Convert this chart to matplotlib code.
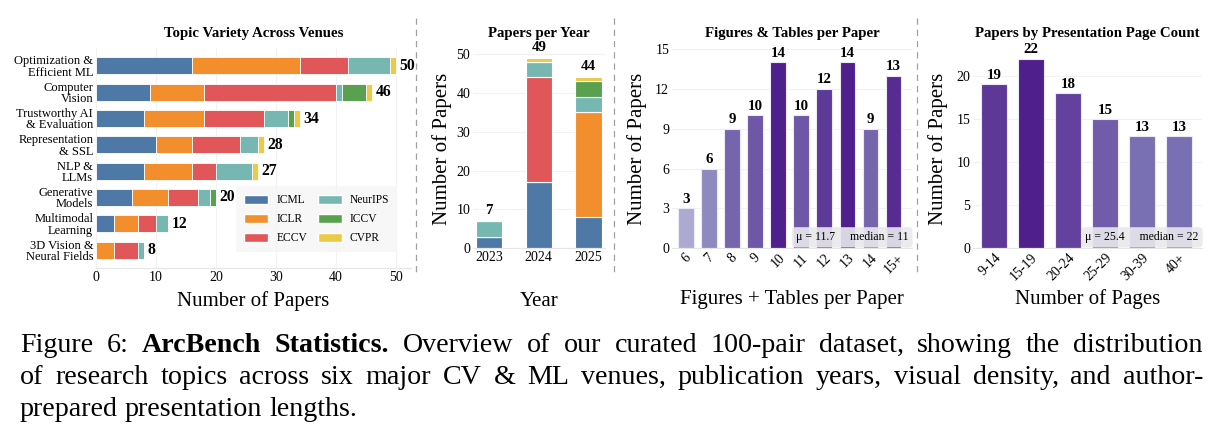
import numpy as np
import matplotlib
matplotlib.use("Agg")
import matplotlib.pyplot as plt
from matplotlib.patches import Patch
from matplotlib.lines import Line2D

plt.rcParams['font.family'] = ['Liberation Serif', 'DejaVu Serif']

# ---- data ----
venues = ["ICML", "ICLR", "ECCV", "NeurIPS", "ICCV", "CVPR"]
venue_colors = ["#4e79a7", "#f28e2b", "#e15759", "#76b7b2", "#59a14f", "#edc948"]

topics = ["Optimization &\nEfficient ML", "Computer\nVision", "Trustworthy AI\n& Evaluation",
          "Representation\n& SSL", "NLP &\nLLMs", "Generative\nModels",
          "Multimodal\nLearning", "3D Vision &\nNeural Fields"]
topic_icml = [16, 9, 8, 10, 8, 6, 3, 0]
topic_iclr = [18, 9, 10, 6, 8, 6, 4, 3]
topic_eccv = [8, 22, 10, 8, 4, 5, 3, 4]
topic_neurips = [7, 1, 4, 3, 6, 2, 2, 1]
topic_iccv = [0, 4, 1, 0, 0, 1, 0, 0]
topic_cvpr = [1, 1, 1, 1, 1, 0, 0, 0]

years = ["2023", "2024", "2025"]
year_icml = [3, 17, 8]
year_iclr = [0, 0, 27]
year_eccv = [0, 27, 0]
year_neurips = [4, 4, 4]
year_iccv = [0, 0, 4]
year_cvpr = [0, 1, 1]

fig_bins = ["6", "7", "8", "9", "10", "11", "12", "13", "14", "15+"]
fig_counts = [3, 6, 9, 10, 14, 10, 12, 14, 9, 13]
fig_mean, fig_median = 11.7, 11

page_bins = ["9-14", "15-19", "20-24", "25-29", "30-39", "40+"]
page_counts = [19, 22, 18, 15, 13, 13]
page_mean, page_median = 25.4, 22

W, H = 1222, 442
fig = plt.figure(figsize=(W / 100, H / 100), dpi=100)


def px_axes(l, t, r, b):
    return fig.add_axes([l / W, 1 - b / H, (r - l) / W, (b - t) / H])


def style(ax, gridaxis="y"):
    for s in ["top", "right", "left"]:
        ax.spines[s].set_visible(False)
    ax.spines["bottom"].set_color("#e6e6e6")
    ax.spines["bottom"].set_linewidth(0.8)
    ax.tick_params(length=0, labelsize=10, pad=2)
    ax.grid(axis=gridaxis, color="#f2f2f2", linewidth=0.8)
    ax.set_axisbelow(True)


def panel_title(ax, text, ypx):
    box = ax.get_position()
    fig.text((box.x0 + box.x1) / 2, 1 - ypx / H, text, ha="center", va="center",
             fontsize=10.7, fontweight="bold")


def purple(v, vmax):
    return plt.cm.Purples(0.32 + 0.58 * v / vmax)


LABEL_SIZE = 10.8

# ---- panel 1: topics ----
ax1 = px_axes(96, 48, 411, 268)
style(ax1, "x")
topic_series = [topic_icml, topic_iclr, topic_eccv, topic_neurips, topic_iccv, topic_cvpr]
ypos = np.arange(len(topics))
left = np.zeros(len(topics))
for vals, col in zip(topic_series, venue_colors):
    ax1.barh(ypos, vals, left=left, height=0.64, color=col,
             edgecolor="white", linewidth=0.6)
    left += np.array(vals)
for y, tot in zip(ypos, left):
    ax1.text(tot + 0.6, y, f"{int(tot)}", va="center", ha="left",
             fontsize=LABEL_SIZE + 0.5, fontweight="bold", zorder=10)
ax1.set_yticks(ypos)
ax1.set_yticklabels(topics, fontsize=9, linespacing=0.92)
ax1.set_ylim(len(topics) - 0.32, -0.68)
ax1.set_xlim(0, 52.5)
ax1.set_xticks([0, 10, 20, 30, 40, 50])
ax1.set_xlabel("Number of Papers", fontsize=15, labelpad=5)
panel_title(ax1, "Topic Variety Across Venues", 33)
handles = [Patch(facecolor=c, edgecolor="white") for c in venue_colors]
leg = ax1.legend(handles, venues, ncol=2,
                 loc="lower right", bbox_to_anchor=(0.975, 0.045), fontsize=8.3,
                 frameon=True, handlelength=2.1, handleheight=0.8,
                 columnspacing=0.9, labelspacing=0.6, borderpad=0.7, handletextpad=0.7)
leg.get_frame().set_facecolor("#f5f5f5")
leg.get_frame().set_edgecolor("none")
leg.set_zorder(4)

# ---- panel 2: years ----
ax2 = px_axes(473, 50, 605, 248.3)
style(ax2)
year_series = [year_icml, year_iclr, year_eccv, year_neurips, year_iccv, year_cvpr]
xpos = np.arange(len(years))
bottom = np.zeros(len(years))
for vals, col in zip(year_series, venue_colors):
    ax2.bar(xpos, vals, bottom=bottom, width=0.53, color=col,
            edgecolor="white", linewidth=0.8)
    bottom += np.array(vals)
for x, tot in zip(xpos, bottom):
    ax2.text(x, tot + 1.0, f"{int(tot)}", ha="center", va="bottom",
             fontsize=LABEL_SIZE, fontweight="bold")
ax2.set_xticks(xpos)
ax2.set_xticklabels(years)
ax2.set_xlim(-0.32, 2.33)
ax2.set_ylim(0, 51)
ax2.set_yticks([0, 10, 20, 30, 40, 50])
ax2.set_ylabel("Number of Papers", fontsize=15, labelpad=3)
ax2.set_xlabel("Year", fontsize=15, labelpad=20)
panel_title(ax2, "Papers per Year", 34)

# ---- panel 3: figures + tables ----
ax3 = px_axes(672, 49, 912, 248.3)
style(ax3)
xpos = np.arange(len(fig_bins))
ax3.bar(xpos, fig_counts, width=0.68,
        color=[purple(v, max(fig_counts)) for v in fig_counts],
        edgecolor="#ece8f4", linewidth=0.8)
for x, v in zip(xpos, fig_counts):
    ax3.text(x, v + 0.2, f"{v}", ha="center", va="bottom",
             fontsize=LABEL_SIZE, fontweight="bold")
ax3.set_xticks(xpos)
ax3.set_xticklabels(fig_bins, rotation=45, ha="center")
ax3.set_xlim(-0.6, 9.8)
ax3.set_ylim(0, 15)
ax3.set_yticks([0, 3, 6, 9, 12, 15])
ax3.set_ylabel("Number of Papers", fontsize=15, labelpad=6)
ax3.set_xlabel("Figures + Tables per Paper", fontsize=15, labelpad=10)
panel_title(ax3, "Figures & Tables per Paper", 34)
ax3.text(0.985, 0.025, f"μ = {fig_mean}     median = {fig_median}", transform=ax3.transAxes,
         ha="right", va="bottom", fontsize=8.5,
         bbox=dict(boxstyle="round,pad=0.35", facecolor="#e9e9ec", edgecolor="none", alpha=0.9))

# ---- panel 4: page count ----
ax4 = px_axes(973, 50, 1202, 248.3)
style(ax4)
xpos = np.arange(len(page_bins))
ax4.bar(xpos, page_counts, width=0.72,
        color=[purple(v, max(page_counts)) for v in page_counts],
        edgecolor="#ece8f4", linewidth=0.8)
for x, v in zip(xpos, page_counts):
    ax4.text(x, v + 0.25, f"{v}", ha="center", va="bottom",
             fontsize=LABEL_SIZE, fontweight="bold")
ax4.set_xticks(xpos)
ax4.set_xticklabels(page_bins, rotation=45, ha="right", rotation_mode="anchor")
ax4.set_xlim(-0.57, 5.62)
ax4.set_ylim(0, 23)
ax4.set_yticks([0, 5, 10, 15, 20])
ax4.set_ylabel("Number of Papers", fontsize=15, labelpad=6)
ax4.set_xlabel("Number of Pages", fontsize=15, labelpad=4)
panel_title(ax4, "Papers by Presentation Page Count", 33)
ax4.text(0.985, 0.025, f"μ = {page_mean}     median = {page_median}", transform=ax4.transAxes,
         ha="right", va="bottom", fontsize=8.5,
         bbox=dict(boxstyle="round,pad=0.35", facecolor="#e9e9ec", edgecolor="none", alpha=0.9))

# ---- dashed separators ----
for xs in [416, 614, 917]:
    fig.add_artist(Line2D([xs / W, xs / W], [1 - 18 / H, 1 - 275 / H],
                          transform=fig.transFigure, color="#a0a0a0",
                          linestyle=(0, (5, 4)), linewidth=0.9))

# ---- caption (justified) ----
cap_lines = [
    [("Figure 6:", "normal"), ("ArcBench Statistics.", "bold"),
     ("Overview of our curated 100-pair dataset, showing the distribution", "normal")],
    [("of research topics across six major CV & ML venues, publication years, visual density, and author-", "normal")],
    [("prepared presentation lengths.", "normal")],
]
cap_base = [352, 384, 416]
cap_left, cap_right = 20, 1203
cap_size = 20.2
renderer = fig.canvas.get_renderer()
for i, (segs, yb) in enumerate(zip(cap_lines, cap_base)):
    words = []
    for txt, wt in segs:
        for w in txt.split(" "):
            words.append((w, wt))
    arts = []
    widths = []
    for w, wt in words:
        t = fig.text(0, 1 - yb / H, w, fontsize=cap_size, fontweight=wt,
                     va="baseline", ha="left")
        arts.append(t)
        widths.append(t.get_window_extent(renderer).width)
    if i < len(cap_lines) - 1:
        gap = (cap_right - cap_left - sum(widths)) / (len(words) - 1)
    else:
        gap = cap_size * 100 / 72 * 0.25
    x = cap_left
    for t, wd in zip(arts, widths):
        t.set_x(x / W)
        x += wd + gap

fig.savefig("out.png", dpi=100)
